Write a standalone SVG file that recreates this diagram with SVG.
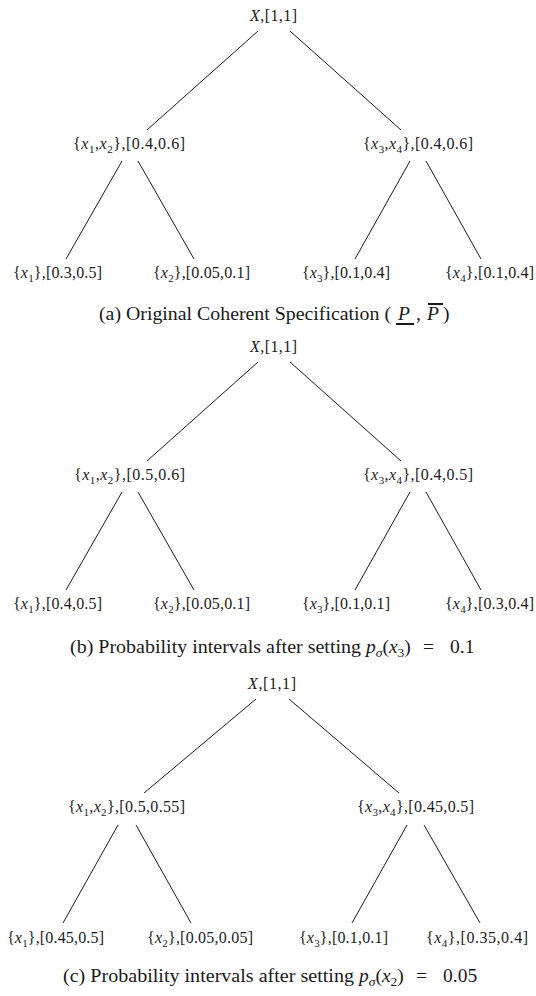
<svg xmlns="http://www.w3.org/2000/svg" width="536" height="996" viewBox="0 0 536 996">
  <style>
    .n { font-family: "Liberation Serif", "Times New Roman", serif; font-size: 16px; fill: #1a1a1a; }
    .cap { font-family: "Liberation Serif", "Times New Roman", serif; font-size: 19.5px; fill: #1a1a1a; }
    .i { font-style: italic; }
    .sub { font-size: 11px; }
    .csub { font-size: 13.5px; }
    .edges line { stroke: #1a1a1a; stroke-width: 1; }
    .bar { stroke: #1a1a1a; stroke-width: 2; }
  </style>
  <rect width="536" height="996" fill="#ffffff"/>

  <!-- (a) original coherent specification -->
  <g id="tree-a">
    <g class="edges">
      <line x1="258" y1="31" x2="147" y2="130"/>
      <line x1="290" y1="31" x2="401" y2="130"/>
      <line x1="122" y1="161" x2="66" y2="259"/>
      <line x1="138" y1="161" x2="194" y2="259"/>
      <line x1="410" y1="161" x2="355" y2="259"/>
      <line x1="426" y1="161" x2="481" y2="259"/>
    </g>
    <g id="a-root"><text class="n" x="250" y="21" textLength="47"><tspan class="i">X</tspan>,[1,1]</text></g>
    <g id="a-x12"><text class="n" x="73" y="149" textLength="112">{<tspan class="i">x</tspan><tspan class="sub" dy="3.5">1</tspan><tspan dy="-3.5">,</tspan><tspan class="i">x</tspan><tspan class="sub" dy="3.5">2</tspan><tspan dy="-3.5">},[0.4,0.6]</tspan></text></g>
    <g id="a-x34"><text class="n" x="363" y="149" textLength="110">{<tspan class="i">x</tspan><tspan class="sub" dy="3.5">3</tspan><tspan dy="-3.5">,</tspan><tspan class="i">x</tspan><tspan class="sub" dy="3.5">4</tspan><tspan dy="-3.5">},[0.4,0.6]</tspan></text></g>
    <g id="a-x1"><text class="n" x="13" y="278" textLength="89">{<tspan class="i">x</tspan><tspan class="sub" dy="3.5">1</tspan><tspan dy="-3.5">},[0.3,0.5]</tspan></text></g>
    <g id="a-x2"><text class="n" x="153" y="278" textLength="97">{<tspan class="i">x</tspan><tspan class="sub" dy="3.5">2</tspan><tspan dy="-3.5">},[0.05,0.1]</tspan></text></g>
    <g id="a-x3"><text class="n" x="302" y="278" textLength="88">{<tspan class="i">x</tspan><tspan class="sub" dy="3.5">3</tspan><tspan dy="-3.5">},[0.1,0.4]</tspan></text></g>
    <g id="a-x4"><text class="n" x="445" y="278" textLength="89">{<tspan class="i">x</tspan><tspan class="sub" dy="3.5">4</tspan><tspan dy="-3.5">},[0.1,0.4]</tspan></text></g>
    <g id="a-caption">
      <text class="cap" x="99" y="320" textLength="292" lengthAdjust="spacingAndGlyphs">(a) Original Coherent Specification (</text>
      <text class="cap i" x="398" y="320">P</text>
      <text class="cap" x="416" y="320">,</text>
      <text class="cap i" x="427" y="320">P</text>
      <text class="cap" x="443" y="320">)</text>
      <line class="bar" x1="396" y1="324" x2="414" y2="324"/>
      <line class="bar" x1="428" y1="304" x2="443" y2="304"/>
    </g>
  </g>

  <!-- (b) after setting p(x3) = 0.1 -->
  <g id="tree-b" transform="translate(0,331)">
    <g class="edges">
      <line x1="258" y1="31" x2="147" y2="130"/>
      <line x1="290" y1="31" x2="401" y2="130"/>
      <line x1="122" y1="161" x2="66" y2="259"/>
      <line x1="138" y1="161" x2="194" y2="259"/>
      <line x1="410" y1="161" x2="355" y2="259"/>
      <line x1="426" y1="161" x2="481" y2="259"/>
    </g>
    <g id="b-root"><text class="n" x="250" y="21" textLength="47"><tspan class="i">X</tspan>,[1,1]</text></g>
    <g id="b-x12"><text class="n" x="74" y="149" textLength="111">{<tspan class="i">x</tspan><tspan class="sub" dy="3.5">1</tspan><tspan dy="-3.5">,</tspan><tspan class="i">x</tspan><tspan class="sub" dy="3.5">2</tspan><tspan dy="-3.5">},[0.5,0.6]</tspan></text></g>
    <g id="b-x34"><text class="n" x="363" y="149" textLength="110">{<tspan class="i">x</tspan><tspan class="sub" dy="3.5">3</tspan><tspan dy="-3.5">,</tspan><tspan class="i">x</tspan><tspan class="sub" dy="3.5">4</tspan><tspan dy="-3.5">},[0.4,0.5]</tspan></text></g>
    <g id="b-x1"><text class="n" x="13" y="278" textLength="89">{<tspan class="i">x</tspan><tspan class="sub" dy="3.5">1</tspan><tspan dy="-3.5">},[0.4,0.5]</tspan></text></g>
    <g id="b-x2"><text class="n" x="153" y="278" textLength="97">{<tspan class="i">x</tspan><tspan class="sub" dy="3.5">2</tspan><tspan dy="-3.5">},[0.05,0.1]</tspan></text></g>
    <g id="b-x3"><text class="n" x="302" y="278" textLength="88">{<tspan class="i">x</tspan><tspan class="sub" dy="3.5">3</tspan><tspan dy="-3.5">},[0.1,0.1]</tspan></text></g>
    <g id="b-x4"><text class="n" x="445" y="278" textLength="89">{<tspan class="i">x</tspan><tspan class="sub" dy="3.5">4</tspan><tspan dy="-3.5">},[0.3,0.4]</tspan></text></g>
    <g id="b-caption">
      <text class="cap" x="70" y="322" textLength="291" lengthAdjust="spacingAndGlyphs">(b) Probability intervals after setting</text>
      <text class="cap" x="366" y="322"><tspan class="i">p</tspan><tspan class="csub i" dy="4">σ</tspan><tspan dy="-4">(</tspan><tspan class="i">x</tspan><tspan class="csub" dy="4">3</tspan><tspan dy="-4">)</tspan></text>
      <text class="cap" x="423" y="322">=</text>
      <text class="cap" x="450" y="322">0.1</text>
    </g>
  </g>

  <!-- (c) after setting p(x2) = 0.05 -->
  <g id="tree-c" transform="translate(0,663)">
    <g class="edges">
      <line x1="256" y1="36" x2="144" y2="130"/>
      <line x1="289" y1="36" x2="399" y2="130"/>
      <line x1="118" y1="162" x2="63" y2="260"/>
      <line x1="136" y1="162" x2="191" y2="260"/>
      <line x1="407" y1="162" x2="352" y2="260"/>
      <line x1="424" y1="162" x2="480" y2="260"/>
    </g>
    <g id="c-root"><text class="n" x="248" y="26" textLength="48"><tspan class="i">X</tspan>,[1,1]</text></g>
    <g id="c-x12"><text class="n" x="68" y="149" textLength="117">{<tspan class="i">x</tspan><tspan class="sub" dy="3.5">1</tspan><tspan dy="-3.5">,</tspan><tspan class="i">x</tspan><tspan class="sub" dy="3.5">2</tspan><tspan dy="-3.5">},[0.5,0.55]</tspan></text></g>
    <g id="c-x34"><text class="n" x="357" y="149" textLength="117">{<tspan class="i">x</tspan><tspan class="sub" dy="3.5">3</tspan><tspan dy="-3.5">,</tspan><tspan class="i">x</tspan><tspan class="sub" dy="3.5">4</tspan><tspan dy="-3.5">},[0.45,0.5]</tspan></text></g>
    <g id="c-x1"><text class="n" x="7" y="280" textLength="97">{<tspan class="i">x</tspan><tspan class="sub" dy="3.5">1</tspan><tspan dy="-3.5">},[0.45,0.5]</tspan></text></g>
    <g id="c-x2"><text class="n" x="147" y="280" textLength="106">{<tspan class="i">x</tspan><tspan class="sub" dy="3.5">2</tspan><tspan dy="-3.5">},[0.05,0.05]</tspan></text></g>
    <g id="c-x3"><text class="n" x="299" y="280" textLength="89">{<tspan class="i">x</tspan><tspan class="sub" dy="3.5">3</tspan><tspan dy="-3.5">},[0.1,0.1]</tspan></text></g>
    <g id="c-x4"><text class="n" x="426" y="280" textLength="102">{<tspan class="i">x</tspan><tspan class="sub" dy="3.5">4</tspan><tspan dy="-3.5">},[0.35,0.4]</tspan></text></g>
    <g id="c-caption">
      <text class="cap" x="63" y="319" textLength="291" lengthAdjust="spacingAndGlyphs">(c) Probability intervals after setting</text>
      <text class="cap" x="359" y="319"><tspan class="i">p</tspan><tspan class="csub i" dy="4">σ</tspan><tspan dy="-4">(</tspan><tspan class="i">x</tspan><tspan class="csub" dy="4">2</tspan><tspan dy="-4">)</tspan></text>
      <text class="cap" x="416" y="319">=</text>
      <text class="cap" x="443" y="319">0.05</text>
    </g>
  </g>
</svg>
